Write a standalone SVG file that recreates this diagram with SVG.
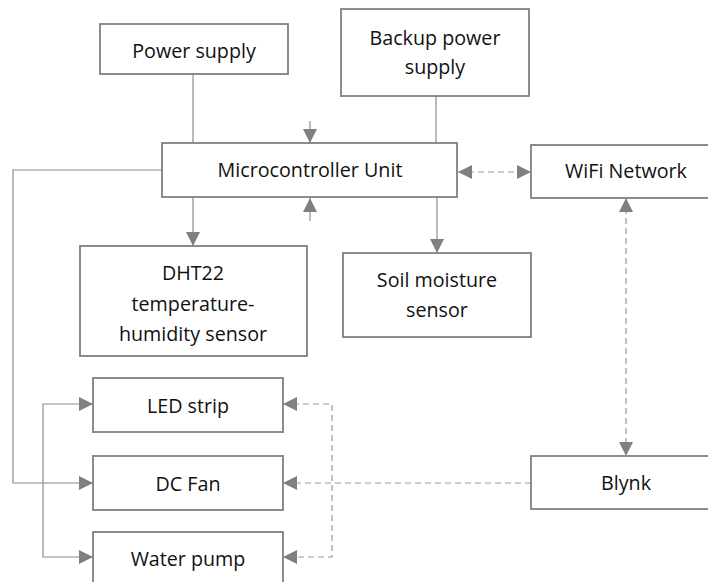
<svg xmlns="http://www.w3.org/2000/svg" width="708" height="582" viewBox="0 0 708 582">
<style>
.box rect{fill:#fff;stroke:#808080;stroke-width:1.8}
text{font-family:"Open Sans","Noto Sans","DejaVu Sans",sans-serif;font-size:19.7px;fill:#111;text-anchor:middle}
.ln{fill:none;stroke:#8c8c8c;stroke-width:1.2}
.dl{fill:none;stroke:#999;stroke-width:1.2;stroke-dasharray:6 4}
</style>
<defs>
<marker id="ah" markerUnits="userSpaceOnUse" markerWidth="14" markerHeight="14" refX="14" refY="7" orient="auto-start-reverse" viewBox="0 0 14 14">
<path d="M0,0 L14,7 L0,14 z" fill="#808080"/>
</marker>
</defs>
<rect width="708" height="582" fill="#fff"/>
<g id="connectors">
<path class="ln" d="M193,74 V143"/>
<path class="ln" d="M436,96 V143"/>
<path class="ln" d="M310,121 V143" marker-end="url(#ah)"/>
<path class="ln" d="M310,221 V198" marker-end="url(#ah)"/>
<path class="ln" d="M193,197 V246" marker-end="url(#ah)"/>
<path class="ln" d="M437,197 V253" marker-end="url(#ah)"/>
<path class="dl" d="M458,172 H531" marker-start="url(#ah)" marker-end="url(#ah)"/>
<path class="dl" d="M626,198 V456" marker-start="url(#ah)" marker-end="url(#ah)"/>
<path class="ln" d="M162,170 H13 V483 H93" marker-end="url(#ah)"/>
<path class="ln" d="M93,404 H43 V557 H93" marker-start="url(#ah)" marker-end="url(#ah)"/>
<path class="dl" d="M283,404 H332 V557 H283" marker-start="url(#ah)" marker-end="url(#ah)"/>
<path class="dl" d="M531,483 H283" marker-end="url(#ah)"/>
</g>
<g id="power" class="box"><rect x="100" y="24" width="188" height="50"/><text x="194" y="58">Power supply</text></g>
<g id="backup" class="box"><rect x="341" y="9" width="188" height="87"/><text x="435" y="45">Backup power</text><text x="435" y="74">supply</text></g>
<g id="mcu" class="box"><rect x="162" y="143" width="295" height="54"/><text x="310" y="177">Microcontroller Unit</text></g>
<g id="wifi" class="box"><rect x="531" y="145" width="190" height="53"/><text x="626" y="178">WiFi Network</text></g>
<g id="dht" class="box"><rect x="80" y="246" width="227" height="110"/><text x="193" y="280">DHT22</text><text x="193" y="311">temperature-</text><text x="193" y="341">humidity sensor</text></g>
<g id="soil" class="box"><rect x="343" y="253" width="188" height="84"/><text x="437" y="287">Soil moisture</text><text x="437" y="317">sensor</text></g>
<g id="led" class="box"><rect x="93" y="378" width="190" height="54"/><text x="188" y="413">LED strip</text></g>
<g id="fan" class="box"><rect x="93" y="456" width="190" height="54"/><text x="188" y="491">DC Fan</text></g>
<g id="pump" class="box"><rect x="93" y="532" width="190" height="54"/><text x="188" y="566">Water pump</text></g>
<g id="blynk" class="box"><rect x="531" y="456" width="190" height="53"/><text x="626" y="490">Blynk</text></g>
</svg>
